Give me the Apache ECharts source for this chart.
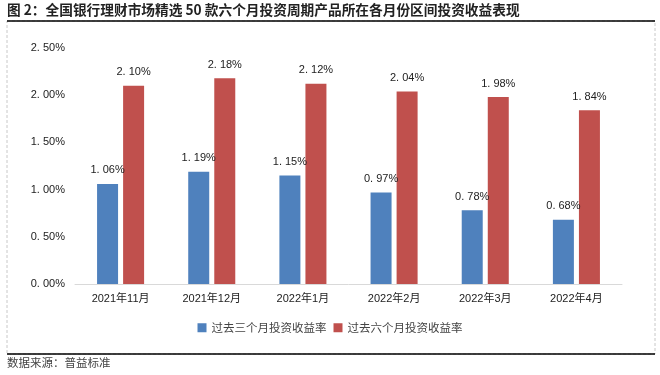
<!DOCTYPE html>
<html>
<head>
<meta charset="utf-8">
<script src="https://cdn.jsdelivr.net/npm/echarts@6/dist/echarts.min.js"></script>
<style>
  html, body { margin: 0; padding: 0; background: #fff; }
  #chart { width: 660px; height: 375px; }
</style>
</head>
<body>
<div id="chart"></div>
<script>
// data
const months = ['2021年11月', '2021年12月', '2022年1月', '2022年2月', '2022年3月', '2022年4月']
const threeMonth = [1.06, 1.19, 1.15, 0.97, 0.78, 0.68]
const sixMonth = [2.10, 2.18, 2.12, 2.04, 1.98, 1.84]
const seriesNames = ['过去三个月投资收益率', '过去六个月投资收益率']
const titleText = '图 2：全国银行理财市场精选 50 款六个月投资周期产品所在各月份区间投资收益表现'
const sourceText = '数据来源：普益标准'

const cjk = '"Noto Sans CJK SC", sans-serif'
const pct = v => v.toFixed(2).replace('.', '. ') + '%'

const chart = echarts.init(document.getElementById('chart'))

const option = {
    animation: false,
    textStyle: { fontFamily: 'Arial, "Liberation Sans", ' + cjk },
    color: ['#4f81bd', '#c0504d'],
    graphic: [
        {
            type: 'text', left: 7, top: 3,
            style: { text: titleText, font: 'bold 13.7px ' + cjk, fill: '#222' }
        },
        {
            type: 'rect', shape: { x: 7, y: 21, width: 648, height: 333 },
            style: { fill: 'none', stroke: '#c8c8c8', lineWidth: 1, lineDash: [3, 2] }
        },
        {
            type: 'line', shape: { x1: 7, y1: 21, x2: 655, y2: 21 },
            style: { stroke: '#000', lineWidth: 1.5 }
        },
        {
            type: 'line', shape: { x1: 7, y1: 354, x2: 655, y2: 354 },
            style: { stroke: '#000', lineWidth: 1.5 }
        },
        {
            type: 'text', left: 7, top: 357,
            style: { text: sourceText, font: '11.5px ' + cjk, fill: '#444' }
        }
    ],
    legend: {
        data: seriesNames,
        top: 317,
        left: 'center',
        itemWidth: 9,
        itemHeight: 9,
        itemGap: 7,
        icon: 'rect',
        textStyle: { fontSize: 11.5, color: '#444', fontFamily: cjk }
    },
    grid: { left: 75, right: 38, top: 48, bottom: 91 },
    xAxis: {
        type: 'category',
        data: months,
        axisLine: { lineStyle: { color: '#d9d9d9' } },
        axisTick: { show: false },
        axisLabel: { color: '#222', fontSize: 11, margin: 9, interval: 0 }
    },
    yAxis: {
        type: 'value',
        min: 0,
        max: 2.5,
        interval: 0.5,
        splitLine: { show: false },
        axisLine: { show: false },
        axisTick: { show: false },
        axisLabel: { color: '#222', fontSize: 11, margin: 10, formatter: pct }
    },
    series: [
        {
            name: seriesNames[0], type: 'bar', data: threeMonth,
            barWidth: 21, barGap: '24%',
            label: { show: true, position: 'top', distance: 8, color: '#222', fontSize: 11, formatter: p => pct(p.value) }
        },
        {
            name: seriesNames[1], type: 'bar', data: sixMonth,
            barWidth: 21,
            label: { show: true, position: 'top', distance: 8, color: '#222', fontSize: 11, formatter: p => pct(p.value) }
        }
    ]
}

chart.setOption(option)
</script>
</body>
</html>
